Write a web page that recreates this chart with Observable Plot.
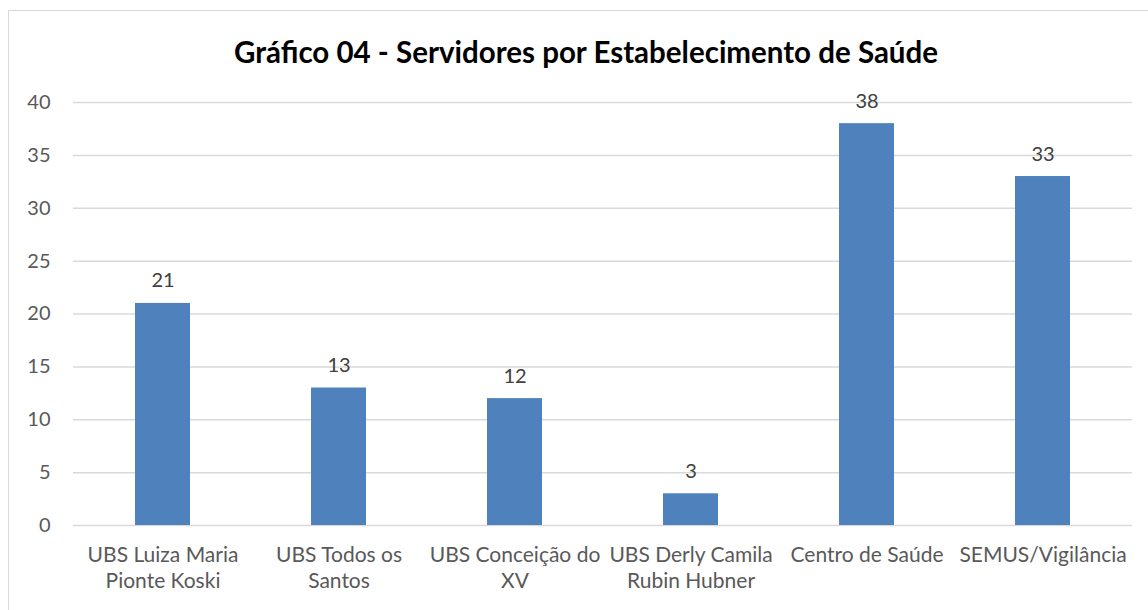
<!DOCTYPE html>
<html><head><meta charset="utf-8">
<script src="https://cdn.jsdelivr.net/npm/d3@7"></script>
<script src="https://cdn.jsdelivr.net/npm/@observablehq/plot@0.6"></script>
<style>
body{margin:0;background:#fff;font-family:Lato,"Open Sans",sans-serif;}
#frame{position:absolute;left:8px;top:10px;width:1145px;height:610px;border:1px solid #d9d9d9;box-sizing:border-box;}
#title{position:absolute;left:0;top:34px;width:1172px;text-align:center;font-size:29.5px;line-height:36px;font-weight:bold;color:#000;}
#chart{position:absolute;left:0;top:0;}
</style></head>
<body>
<div id="frame"></div>
<div id="chart"></div>
<div id="title">Gráfico 04 - Servidores por Estabelecimento de Saúde</div>
<script>
const categories = ["UBS Luiza Maria Pionte Koski","UBS Todos os Santos","UBS Conceição do XV","UBS Derly Camila Rubin Hubner","Centro de Saúde","SEMUS/Vigilância"];
const tickLabels = ["UBS Luiza Maria\nPionte Koski","UBS Todos os\nSantos","UBS Conceição do\nXV","UBS Derly Camila\nRubin Hubner","Centro de Saúde","SEMUS/Vigilância"];
const values = [21,13,12,3,38,33];
const yTicks = [0,5,10,15,20,25,30,35,40];

const data = categories.map((c,i)=>({cat:c, value:values[i]}));
const labelOf = new Map(categories.map((c,i)=>[c,tickLabels[i]]));
const FS = 20;

const chart = Plot.plot({
  width:1148, height:610,
  marginLeft:73, marginRight:16, marginTop:102, marginBottom:85,
  style:{fontFamily:"Lato, 'Open Sans', sans-serif", fontSize:FS+"px", color:"#595959", background:"transparent"},
  x:{domain:categories, paddingInner:0.69, paddingOuter:0.345, label:null},
  y:{domain:[0,40], label:null},
  marks:[
    Plot.gridY(yTicks.slice(1), {stroke:"#d9d9d9", strokeOpacity:1, strokeWidth:1.5}),
    Plot.ruleY([0], {stroke:"#d9d9d9", strokeWidth:1.5}),
    Plot.barY(data, {x:"cat", y:"value", fill:"#4f81bd"}),
    Plot.text(data, {x:"cat", y:"value", text:d=>String(d.value), lineAnchor:"bottom", dy:-16, fontSize:FS, fill:"#404040"}),
    Plot.axisY(yTicks, {tickSize:0, tickPadding:23, fontSize:FS, fill:"#595959", label:null}),
    Plot.axisX({tickSize:0, tickPadding:18, fontSize:21, fill:"#595959", lineHeight:1.25, tickFormat:d=>labelOf.get(d), label:null})
  ]
});
document.getElementById("chart").appendChild(chart);
</script>
</body></html>
